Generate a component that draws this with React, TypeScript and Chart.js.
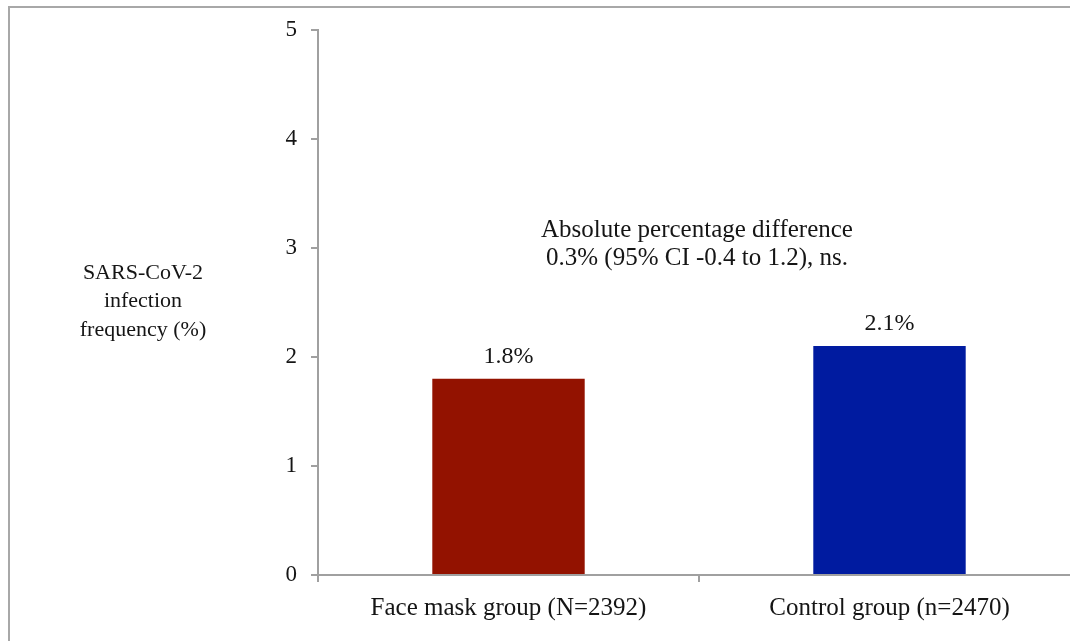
import React, { useEffect, useRef } from "react";
import { Chart, registerables } from "chart.js";

Chart.register(...registerables);

const categories = ["Face mask group (N=2392)", "Control group (n=2470)"];
const infectionPct = [1.8, 2.1];
const barLabels = ["1.8%", "2.1%"];
const barColors = ["#931200", "#001BA0"];
const yTitleLines = ["SARS-CoV-2", "infection", "frequency (%)"];
const noteLines = ["Absolute percentage difference", "0.3% (95% CI -0.4 to 1.2), ns."];
const yMin = 0;
const yMax = 5;

const FONT = "'Liberation Serif', 'Times New Roman', serif";
const TEXT = "#151515";
const AXIS = "#a0a0a0";

const decorPlugin = {
  id: "decor",
  beforeDraw(chart: any) {
    const ctx = chart.ctx;
    ctx.save();
    ctx.strokeStyle = "#a8a8a8";
    ctx.lineWidth = 2;
    ctx.beginPath();
    ctx.moveTo(9, chart.height + 5);
    ctx.lineTo(9, 7);
    ctx.lineTo(chart.width + 5, 7);
    ctx.stroke();
    ctx.restore();
  },
  afterDatasetsDraw(chart: any) {
    const ctx = chart.ctx;
    const area = chart.chartArea;
    const y = chart.scales.y;
    ctx.save();
    ctx.fillStyle = TEXT;
    ctx.textAlign = "center";
    ctx.textBaseline = "alphabetic";
    // bar value labels
    ctx.font = `24px ${FONT}`;
    const meta = chart.getDatasetMeta(0);
    meta.data.forEach((bar: any, i: number) => {
      ctx.fillText(barLabels[i], bar.x, bar.y - 16);
    });
    // annotation
    ctx.font = `25px ${FONT}`;
    const cx = (area.left + area.right) / 2 - 2;
    const y0 = y.getPixelForValue(3.1);
    noteLines.forEach((t, i) => ctx.fillText(t, cx, y0 + i * 28));
    // y axis title (horizontal)
    ctx.font = `22px ${FONT}`;
    const tx = area.left - 175;
    const ty = y.getPixelForValue(2.72);
    yTitleLines.forEach((t, i) => ctx.fillText(t, tx, ty + i * 28.7));
    ctx.restore();
  },
};

export default function App() {
  const ref = useRef<HTMLCanvasElement | null>(null);
  useEffect(() => {
    if (!ref.current) return;
    const chart = new Chart(ref.current, {
      type: "bar",
      data: {
        labels: categories,
        datasets: [
          {
            data: infectionPct,
            backgroundColor: barColors,
            borderWidth: 0,
            barPercentage: 0.4,
            categoryPercentage: 1,
          },
        ],
      },
      options: {
        responsive: false,
        animation: false,
        layout: { padding: { left: 0, top: 30, right: 10, bottom: 0 } },
        plugins: {
          legend: { display: false },
          tooltip: { enabled: false },
          title: { display: false },
        },
        scales: {
          x: {
            grid: {
              drawOnChartArea: false,
              drawTicks: true,
              tickLength: 7,
              color: AXIS,
              lineWidth: 2,
              offset: true,
            },
            border: { display: true, color: AXIS, width: 2 },
            ticks: {
              color: TEXT,
              font: { family: FONT, size: 25 },
              padding: 11,
              maxRotation: 0,
              autoSkip: false,
            },
            afterFit: (s: any) => {
              s.height = 66;
            },
          },
          y: {
            min: yMin,
            max: yMax,
            grid: {
              drawOnChartArea: false,
              drawTicks: true,
              tickLength: 7,
              color: AXIS,
              lineWidth: 2,
            },
            border: { display: true, color: AXIS, width: 2 },
            ticks: {
              stepSize: 1,
              color: TEXT,
              font: { family: FONT, size: 23 },
              padding: 14,
            },
            afterFit: (s: any) => {
              s.width = 318;
            },
          },
        },
      },
      plugins: [decorPlugin],
    });
    return () => chart.destroy();
  }, []);
  return (
    <div
      style={{
        position: "absolute",
        left: 0,
        top: 0,
        width: 1070,
        height: 641,
        overflow: "hidden",
        background: "#fff",
      }}
    >
      <canvas ref={ref} width={1090} height={641} style={{ display: "block" }} />
    </div>
  );
}
